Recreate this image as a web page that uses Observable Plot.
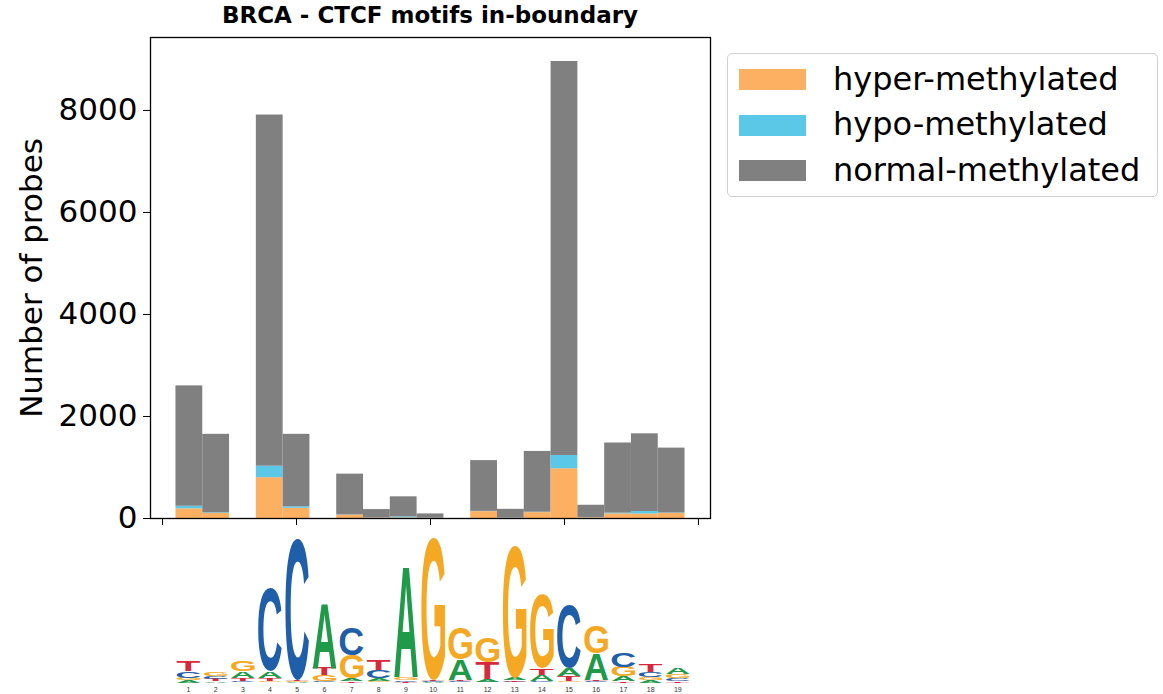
<!DOCTYPE html>
<html>
<head>
<meta charset="utf-8">
<script src="https://cdn.jsdelivr.net/npm/d3@7"></script>
<script src="https://cdn.jsdelivr.net/npm/@observablehq/plot@0.6"></script>
<style>
  html, body { margin: 0; padding: 0; background: #fff; }
  #root { position: relative; width: 1163px; height: 694px; overflow: hidden; font-family: "DejaVu Sans", sans-serif; }
  #title { position: absolute; left: 150px; top: 2px; width: 560px; text-align: center; font: bold 23px "DejaVu Sans", sans-serif; color: #000; }
  #chart { position: absolute; left: 0; top: 0; }
  #logo { position: absolute; left: 0; top: 520px; }
  #legend { position: absolute; left: 727px; top: 53px; width: 431px; height: 144px; border: 1px solid #d0d0d0; border-radius: 5px; box-sizing: border-box; }
  .lg-sw { position: absolute; left: 11px; width: 67px; height: 21px; }
  .lg-tx { position: absolute; left: 105px; font: 32px "DejaVu Sans", sans-serif; white-space: nowrap; color: #000; line-height: 1; }
</style>
</head>
<body>
<div id="root">
  <div id="chart"></div>
  <div id="title">BRCA - CTCF motifs in-boundary</div>
  <div id="legend"></div>
  <div id="logo"></div>
</div>
<script>
// ---- data ----
const positions = [1, 2, 3, 4, 5, 6, 7, 8, 9, 10, 11, 12, 13, 14, 15, 16, 17, 18, 19];
const categories = ["hyper-methylated", "hypo-methylated", "normal-methylated"];
const hyper  = [190, 100, 0, 800, 200, 0, 65, 10, 12, 5, 0, 135, 5, 115, 975, 15, 90, 88, 100];
const hypo   = [50, 12, 0, 225, 30, 0, 5, 3, 20, 2, 0, 5, 3, 8, 260, 5, 15, 50, 8];
const normal = [2360, 1538, 0, 6885, 1420, 0, 800, 162, 393, 83, 0, 995, 172, 1192, 7725, 240, 1375, 1522, 1272];
const yTicks = [0, 2000, 4000, 6000, 8000];
const xTicks = [0, 5, 10, 15, 20];
const barColors = ["#fdb062", "#5bc8e8", "#808080"];

// sequence logo (information content, bits)
const letters = ["A", "C", "G", "T"];
const letterColors = ["#1e9a48", "#1f5ea8", "#f5a823", "#d8283c"];
const logoA = [0.03, 0.02, 0.09, 0.09, 0.01, 0.87, 0.03, 0.04, 1.47, 0.01, 0.27, 0.04, 0.03, 0.08, 0.11, 0.35, 0.06, 0.03, 0.09];
const logoC = [0.09, 0.04, 0.02, 1.11, 1.88, 0.02, 0.36, 0.11, 0.02, 0.01, 0.02, 0.01, 0.01, 0.02, 0.84, 0.02, 0.20, 0.07, 0.04];
const logoG = [0.03, 0.05, 0.13, 0.02, 0.01, 0.08, 0.31, 0.02, 0.04, 1.89, 0.42, 0.33, 1.76, 0.98, 0.02, 0.36, 0.13, 0.04, 0.05];
const logoT = [0.14, 0.03, 0.04, 0.04, 0.01, 0.10, 0.02, 0.13, 0.01, 0.01, 0.02, 0.22, 0.02, 0.09, 0.07, 0.02, 0.02, 0.11, 0.02];

// ---- bars (stacked) ----
const series = [hyper, hypo, normal];
const rows = [];
positions.forEach((p, i) => {
  let base = 0;
  series.forEach((s, k) => {
    rows.push({pos: p, cat: categories[k], y1: base, y2: base + s[i]});
    base += s[i];
  });
});

const chart = Plot.plot({
  width: 720,
  height: 545,
  marginLeft: 150,
  marginRight: 10,
  marginTop: 37,
  marginBottom: 27,
  style: {fontFamily: "DejaVu Sans, sans-serif", fontSize: "31px", color: "#000", background: "transparent"},
  x: {domain: [-0.45, 20.45]},
  y: {domain: [0, 9430]},
  color: {domain: categories, range: barColors},
  marks: [
    Plot.rect(rows, {x1: d => d.pos - 0.5, x2: d => d.pos + 0.5, y1: "y1", y2: "y2", fill: "cat"}),
    Plot.axisY({ticks: yTicks, tickSize: 7, tickPadding: 6, fontSize: 31, tickFormat: d => String(d),
      label: "Number of probes", labelAnchor: "center", labelOffset: 131, labelArrow: "none"}),
    Plot.axisX({ticks: xTicks, tickSize: 7, tickFormat: () => "", label: null}),
    Plot.frame({stroke: "#000", strokeWidth: 1.3})
  ]
});
document.getElementById("chart").appendChild(chart);

// ---- legend ----
const legend = document.getElementById("legend");
categories.forEach((c, k) => {
  const cy = 25.5 + k * 45.5; // row center relative to box
  const sw = document.createElement("div");
  sw.className = "lg-sw";
  sw.style.top = (cy - 10.5) + "px";
  sw.style.background = barColors[k];
  legend.appendChild(sw);
  const tx = document.createElement("div");
  tx.className = "lg-tx";
  tx.style.top = (cy - 17) + "px";
  tx.textContent = c;
  legend.appendChild(tx);
});

// ---- sequence logo ----
const logoVals = {A: logoA, C: logoC, G: logoG, T: logoT};
const logoData = [];
positions.forEach((p, i) => {
  const items = letters.map(L => ({letter: L, v: logoVals[L][i]})).sort((a, b) => a.v - b.v);
  let base = 0;
  items.forEach(it => {
    logoData.push({pos: p, letter: it.letter, y1: base, y2: base + it.v});
    base += it.v;
  });
});

const logoFont = "Liberation Sans";
const logo = Plot.plot({
  width: 720,
  height: 174,
  marginLeft: 0,
  marginRight: 0,
  marginTop: 12,
  marginBottom: 12,
  style: {fontFamily: logoFont + ", sans-serif", color: "#333", background: "transparent", overflow: "visible"},
  x: {domain: [0.5, 19.5], range: [174.4, 690.9]},
  y: {domain: [0, 2], range: [162, 12], axis: null},
  color: {domain: letters, range: letterColors},
  marks: [
    Plot.text(logoData, {x: "pos", y: "y1", text: "letter", fill: "letter", fontSize: 100, fontWeight: "bold"}),
    Plot.axisX({ticks: positions, tickSize: 0, tickPadding: 5, fontSize: 7, label: null})
  ]
});
document.getElementById("logo").appendChild(logo);

// stretch each letter glyph to fill its stack slot
const canvas = document.createElement("canvas");
const ctx = canvas.getContext("2d");
ctx.font = "bold 100px '" + logoFont + "'";
const metrics = {};
letters.forEach(L => {
  const m = ctx.measureText(L);
  metrics[L] = {l: m.actualBoundingBoxLeft, r: m.actualBoundingBoxRight, a: m.actualBoundingBoxAscent, d: m.actualBoundingBoxDescent};
});
const xs = logo.scale("x"), ys = logo.scale("y");
const step = xs.apply(2) - xs.apply(1);
const lw = step * 0.87;
const texts = logo.querySelectorAll('g[aria-label="text"] text');
texts.forEach((t, i) => {
  const d = logoData[i];
  const m = metrics[d.letter];
  const X0 = xs.apply(d.pos) - lw / 2;
  const Ybot = ys.apply(d.y1), Ytop = ys.apply(d.y2);
  const sx = lw / (m.l + m.r);
  const sy = (Ybot - Ytop) / (m.a + m.d);
  t.removeAttribute("dy");
  t.removeAttribute("x");
  t.removeAttribute("y");
  t.setAttribute("text-anchor", "start");
  t.setAttribute("font-size", "100");
  t.setAttribute("font-weight", "bold");
  t.setAttribute("transform", `translate(${X0},${Ybot}) scale(${sx},${sy}) translate(${m.l},${-m.d})`);
});
</script>
</body>
</html>
